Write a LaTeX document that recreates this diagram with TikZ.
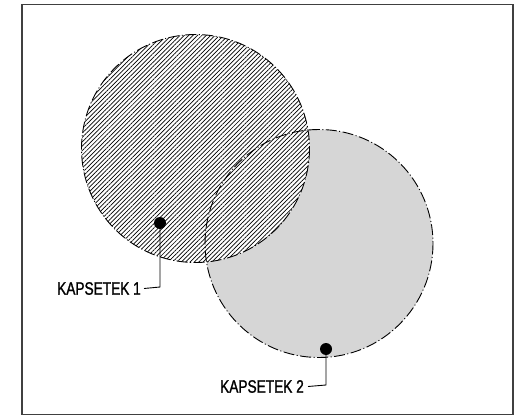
\documentclass[tikz,border=0pt]{standalone}
\usepackage{fontspec}
\setmainfont{Liberation Sans}[FakeStretch=0.76, FakeBold=1.2]
\usetikzlibrary{patterns.meta}
\begin{document}
\begin{tikzpicture}[x=1pt,y=-1pt,
  dashdot/.style={line width=0.9pt, dash pattern=on 11pt off 2.5pt on 1pt off 2.5pt},
  dotmark/.style={circle, fill=black, inner sep=0pt, minimum size=12pt},
  leader/.style={line width=0.9pt},
  lbl/.style={font=\fontsize{18}{20}\selectfont, inner sep=0pt, anchor=east}]
\useasboundingbox (0,0) rectangle (522,417);
\draw[line width=1.5pt, black!75] (22,4.5) rectangle (513,414.5);
% circles
\fill[black!16] (319,243.5) circle (114);
\fill[white] (195.5,148.5) circle (114);
\fill[pattern={Lines[angle=45,distance=3.1pt,line width=0.7pt]}] (195.5,148.5) circle (114);
\draw[dashdot] (319,243.5) circle (114);
\draw[dashdot] (195.5,148.5) circle (114);
% markers
\node[dotmark] (d1) at (160,223) {};
\node[dotmark] (d2) at (326,349) {};
\coordinate (c1) at (160,287);
\coordinate (c2) at (326,385);
\node[lbl] (t1) at (141,288.5) {KAPSETEK 1};
\node[lbl] (t2) at (304,386.5) {KAPSETEK 2};
\draw[leader] (d1.center) -- (c1) -- ([xshift=3pt]t1.east);
\draw[leader] (d2.center) -- (c2) -- ([xshift=4pt]t2.east);
\end{tikzpicture}
\end{document}
